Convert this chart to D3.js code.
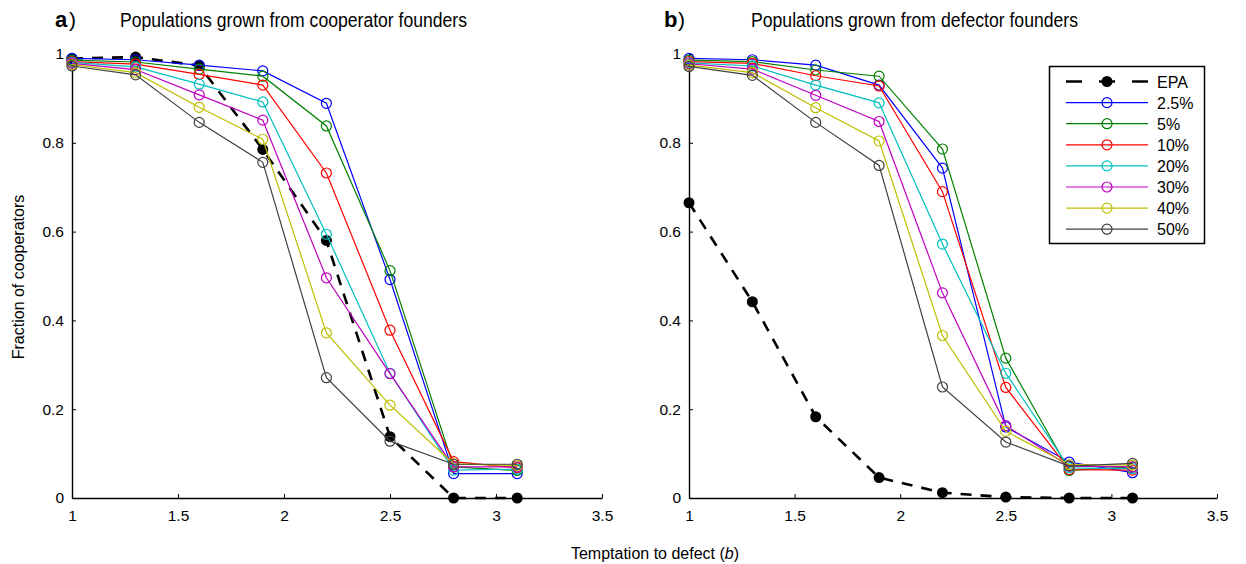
<!DOCTYPE html>
<html><head><meta charset="utf-8">
<script src="https://cdn.jsdelivr.net/npm/d3@7"></script>
<style>body{margin:0;background:#fff}svg{display:block;font-family:"Liberation Sans",Arial,sans-serif}</style>
</head><body><svg id="c" width="1246" height="564"></svg>
<script>
const bValues = [1, 1.3, 1.6, 1.9, 2.2, 2.5, 2.8, 3.1];
const xTicks = [1, 1.5, 2, 2.5, 3, 3.5];
const yTicks = [0, 0.2, 0.4, 0.6, 0.8, 1];
const seriesNames = ["2.5%", "5%", "10%", "20%", "30%", "40%", "50%"];
const seriesColors = ["#0000ff", "#008000", "#ff0000", "#00bfbf", "#bf00bf", "#bfbf00", "#404040"];
const panelTitles = ["Populations grown from cooperator founders", "Populations grown from defector founders"];
const panelLetters = ["a", "b"];

// Panel a: cooperator founders
const epaA = [0.99, 0.993, 0.974, 0.785, 0.58, 0.138, 0, 0];
const a25 = [0.99, 0.987, 0.975, 0.962, 0.889, 0.492, 0.055, 0.055];
const a5  = [0.986, 0.982, 0.966, 0.95, 0.838, 0.512, 0.07, 0.062];
const a10 = [0.983, 0.977, 0.954, 0.93, 0.732, 0.378, 0.082, 0.068];
const a20 = [0.981, 0.971, 0.932, 0.892, 0.594, 0.281, 0.063, 0.065];
const a30 = [0.979, 0.965, 0.908, 0.851, 0.496, 0.28, 0.07, 0.07];
const a40 = [0.976, 0.958, 0.88, 0.808, 0.372, 0.209, 0.077, 0.073];
const a50 = [0.973, 0.953, 0.846, 0.756, 0.271, 0.128, 0.076, 0.076];

// Panel b: defector founders
const epaB = [0.665, 0.442, 0.183, 0.046, 0.012, 0.002, 0, 0];
const b25 = [0.99, 0.987, 0.975, 0.93, 0.743, 0.16, 0.081, 0.057];
const b5  = [0.986, 0.983, 0.964, 0.95, 0.786, 0.315, 0.062, 0.07];
const b10 = [0.983, 0.979, 0.951, 0.928, 0.69, 0.249, 0.064, 0.063];
const b20 = [0.98, 0.973, 0.93, 0.89, 0.572, 0.281, 0.068, 0.066];
const b30 = [0.978, 0.966, 0.907, 0.848, 0.462, 0.163, 0.072, 0.07];
const b40 = [0.975, 0.958, 0.879, 0.804, 0.366, 0.15, 0.075, 0.074];
const b50 = [0.972, 0.952, 0.846, 0.749, 0.25, 0.126, 0.072, 0.078];

const panels = [
  {epa: epaA, series: [a25, a5, a10, a20, a30, a40, a50], x0: 72, x1: 602, letterX: 55, titleX: 120, titleW: 347, legend: false},
  {epa: epaB, series: [b25, b5, b10, b20, b30, b40, b50], x0: 689, x1: 1217, letterX: 664, titleX: 751, titleW: 327, legend: true}
];
const yTop = 54, yBot = 498;
const svg = d3.select("#c");

panels.forEach((p, pi) => {
  const x = d3.scaleLinear().domain([1, 3.5]).range([p.x0, p.x1]);
  const y = d3.scaleLinear().domain([0, 1]).range([yBot, yTop]);
  const g = svg.append("g");

  const xa = g.append("g").attr("transform", `translate(0,${yBot})`)
    .call(d3.axisBottom(x).tickValues(xTicks).tickSizeInner(-4).tickSizeOuter(0).tickPadding(12).tickFormat(d3.format("")));
  const ya = g.append("g").attr("transform", `translate(${p.x0},0)`)
    .call(d3.axisLeft(y).tickValues(yTicks).tickSizeInner(-4).tickSizeOuter(0).tickPadding(8).tickFormat(d => d === 0 ? "0" : d === 1 ? "1" : d3.format(".1f")(d)));
  [xa, ya].forEach(a => {
    a.attr("font-size", 15.5);
    a.selectAll("path").attr("stroke", "#000").attr("stroke-width", 1.4);
    a.selectAll("line").attr("stroke", "#000");
    a.selectAll("text").attr("font-size", 15.5).attr("fill", "#000").attr("font-family", "Liberation Sans, Arial, sans-serif");
  });

  const line = d3.line().x((d, i) => x(bValues[i])).y(d => y(d));

  // EPA
  g.append("path").datum(p.epa).attr("d", line).attr("fill", "none")
    .attr("stroke", "#000").attr("stroke-width", 2.6).attr("stroke-dasharray", "11,9");
  g.selectAll(".epa").data(p.epa).enter().append("circle")
    .attr("cx", (d, i) => x(bValues[i])).attr("cy", d => y(d)).attr("r", 5.5).attr("fill", "#000");

  p.series.forEach((s, si) => {
    g.append("path").datum(s).attr("d", line).attr("fill", "none")
      .attr("stroke", seriesColors[si]).attr("stroke-width", 1.2);
    g.selectAll(null).data(s).enter().append("circle")
      .attr("cx", (d, i) => x(bValues[i])).attr("cy", d => y(d)).attr("r", 5)
      .attr("fill", "none").attr("stroke", seriesColors[si]).attr("stroke-width", 1.2);
  });

  // title
  svg.append("text").attr("x", p.letterX).attr("y", 27).attr("font-size", 22).attr("font-weight", "bold").text(panelLetters[pi]);
  svg.append("text").attr("x", p.letterX + 14).attr("y", 27).attr("font-size", 21).text(")");
  svg.append("text").attr("x", p.titleX).attr("y", 27).attr("font-size", 20.5)
    .attr("textLength", p.titleW).attr("lengthAdjust", "spacingAndGlyphs").text(panelTitles[pi]);

  if (p.legend) {
    const lx = 1049.5, ly = 66.5, lw = 155, lh = 177;
    const lg = svg.append("g");
    lg.append("rect").attr("x", lx).attr("y", ly).attr("width", lw).attr("height", lh)
      .attr("fill", "#fff").attr("stroke", "#000").attr("stroke-width", 1.5);
    const names = ["EPA"].concat(seriesNames);
    names.forEach((n, i) => {
      const yy = 81.5 + i * 21.1;
      if (i === 0) {
        lg.append("line").attr("x1", 1066).attr("x2", 1148).attr("y1", yy).attr("y2", yy)
          .attr("stroke", "#000").attr("stroke-width", 2.6).attr("stroke-dasharray", "16,17");
        lg.append("circle").attr("cx", 1107).attr("cy", yy).attr("r", 5.5).attr("fill", "#000");
      } else {
        const c = seriesColors[i - 1];
        lg.append("line").attr("x1", 1066).attr("x2", 1148).attr("y1", yy).attr("y2", yy)
          .attr("stroke", c).attr("stroke-width", 1.2);
        lg.append("circle").attr("cx", 1107).attr("cy", yy).attr("r", 5).attr("fill", "none")
          .attr("stroke", c).attr("stroke-width", 1.2);
      }
      lg.append("text").attr("x", 1157).attr("y", yy + 6).attr("font-size", 16).text(n);
    });
  }
});

// axis labels
svg.append("text").attr("transform", "translate(24,277) rotate(-90)").attr("text-anchor", "middle")
  .attr("font-size", 16).text("Fraction of cooperators");
const xl = svg.append("text").attr("x", 655).attr("y", 559).attr("text-anchor", "middle").attr("font-size", 16);
xl.append("tspan").text("Temptation to defect (");
xl.append("tspan").attr("font-style", "italic").text("b");
xl.append("tspan").text(")");
</script></body></html>
